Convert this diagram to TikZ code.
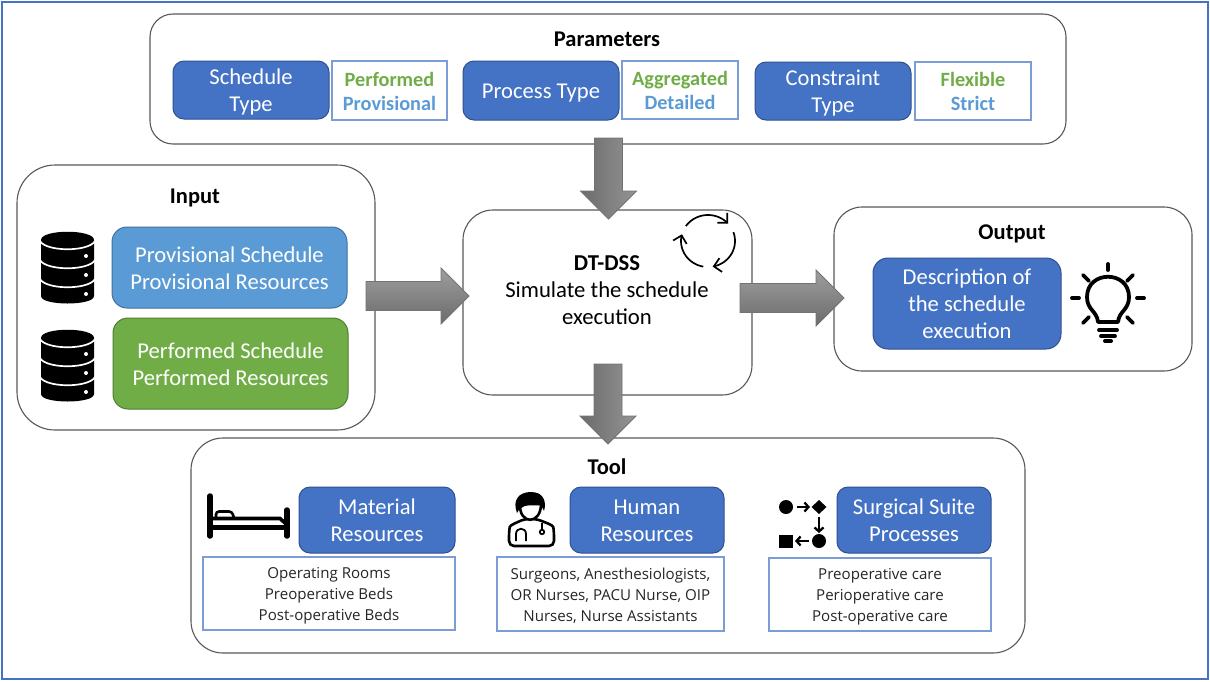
\documentclass[tikz,border=0pt]{standalone}
\usepackage{fontspec}
\setmainfont{Carlito}
\newfontfamily\listfont{Open Sans}
\usetikzlibrary{calc,arrows.meta}
\definecolor{bluebox}{HTML}{4472C4}
\definecolor{blueedge}{HTML}{2F528F}
\definecolor{skybox}{HTML}{5B9BD5}
\definecolor{skyedge}{HTML}{41719C}
\definecolor{greenbox}{HTML}{70AD47}
\definecolor{greenedge}{HTML}{507E32}
\definecolor{panel}{HTML}{595959}
\definecolor{listtext}{HTML}{262626}
\tikzset{
  panelbox/.style={draw=panel,line width=1.1pt,fill=white},
  bluefill/.style={draw=blueedge,line width=1pt,fill=bluebox,text=white,rounded corners=11pt,align=center,font=\fontsize{22.6}{27}\selectfont},
  skyfill/.style={bluefill,draw=skyedge,fill=skybox,rounded corners=15pt},
  greenfill/.style={bluefill,draw=greenedge,fill=greenbox,rounded corners=15pt},
  whitebox/.style={draw=bluebox!70,line width=1.2pt,fill=white,align=center},
  paramlist/.style={whitebox,font=\fontsize{20.3}{24}\selectfont\bfseries},
  careList/.style={whitebox,text=listtext,font=\listfont\fontsize{15.1}{21}\selectfont},
  titletext/.style={font=\fontsize{22.5}{24}\selectfont\bfseries,text=black},
  blockarrow/.style={draw=black!55,line width=.8pt,top color=black!38,bottom color=black!58},
  vblockarrow/.style={draw=black!55,line width=.8pt,left color=black!58,right color=black!42},
}
\def\bxdrop{3pt}
\newcommand{\bx}[7]{\node[#2,inner sep=0pt,outer sep=0pt,minimum width={(#5-#3)*1pt},minimum height={(#6-#4)*1pt}] (#1) at ({(#3+#5)/2},{(#4+#6)/2}) {\raisebox{0pt}[\dimexpr\height+\bxdrop\relax][\dimexpr\depth-\bxdrop\relax]{\begin{tabular}{@{}c@{}}#7\end{tabular}}};}
\newcommand{\hblock}[2]{\draw[blockarrow] ($(#1)+(0,-14.5)$) -- ($(#2)+(-28,-14.5)$) -- ($(#2)+(-28,-28)$) -- (#2) -- ($(#2)+(-28,28)$) -- ($(#2)+(-28,14.5)$) -- ($(#1)+(0,14.5)$) -- cycle;}
\newcommand{\vblock}[2]{\draw[vblockarrow] ($(#1)+(-14,0)$) -- ($(#2)+(-14,-28)$) -- ($(#2)+(-28,-28)$) -- (#2) -- ($(#2)+(28,-28)$) -- ($(#2)+(14,-28)$) -- ($(#1)+(14,0)$) -- cycle;}
\newcommand{\dbicon}[1]{\begin{scope}[shift={(0,#1)}]
  \fill[black] (41,240) .. controls (41,229) and (94,229) .. (94,240) -- (94,296) .. controls (94,306) and (41,306) .. (41,296) -- cycle;
  \draw[white,line width=1.7pt] (40,241) .. controls (46,252) and (89,252) .. (95,241);
  \draw[white,line width=1.7pt] (40,260) .. controls (46,271) and (89,271) .. (95,260);
  \draw[white,line width=1.7pt] (40,279) .. controls (46,290) and (89,290) .. (95,279);
  \fill[white] (86,256) circle (2) (86,275) circle (2) (86,294) circle (2);
\end{scope}}
\begin{document}
\begin{tikzpicture}[x=1pt,y=-1pt]
\useasboundingbox (0,0) rectangle (1210,681);
\fill[white] (0,0) rectangle (1210,681);
\draw[bluebox,line width=2.4pt] (2,2) rectangle (1208,679);
% panels
\node[panelbox,rounded corners=23pt,inner sep=0pt,minimum width=916pt,minimum height=130pt] (params) at (608,79) {};
\node[panelbox,rounded corners=38pt,inner sep=0pt,minimum width=358pt,minimum height=265pt] (input) at (196,297.5) {};
\node[panelbox,rounded corners=30pt,inner sep=0pt,minimum width=289pt,minimum height=185pt] (dss) at (607.5,302.5) {};
\node[panelbox,rounded corners=28pt,inner sep=0pt,minimum width=358pt,minimum height=164pt] (output) at (1013,289) {};
\node[panelbox,rounded corners=32pt,inner sep=0pt,minimum width=834pt,minimum height=215pt] (tool) at (608,545.5) {};
% titles
\node[titletext] (tparams) at (607,39.5) {Parameters};
\node[titletext] (tinput) at (195,197.5) {Input};
\node[titletext] (toutput) at (1012,233.5) {Output};
\node[titletext] (ttool) at (607,467) {Tool};
\node[align=center,font=\fontsize{22.7}{27}\selectfont] (tdss) at (607,290) {\textbf{DT-DSS}\\Simulate the schedule\\execution};
% parameters
\bx{sched}{bluefill}{173}{61}{329}{119}{Schedule\\Type}
\bx{schedv}{paramlist}{332}{61}{447}{120}{\textcolor{greenbox}{Performed}\\\textcolor{skybox}{Provisional}}
\bx{proc}{bluefill}{463}{61}{619}{120}{Process Type}
\bx{procv}{paramlist}{622}{61}{738}{119}{\textcolor{greenbox}{Aggregated}\\\textcolor{skybox}{Detailed}}
\bx{cons}{bluefill}{755}{62}{911}{120}{Constraint\\Type}
\bx{consv}{paramlist}{915}{62}{1031}{120}{\textcolor{greenbox}{Flexible}\\\textcolor{skybox}{Strict}}
% input
\bx{prov}{skyfill}{112}{227}{347}{308}{Provisional Schedule\\Provisional Resources}
\bx{perf}{greenfill}{113}{318}{348}{409}{Performed Schedule\\Performed Resources}
\dbicon{0}
\dbicon{98}
% output
\bx{desc}{bluefill,rounded corners=15pt}{873}{258}{1061}{349}{Description of\\the schedule\\execution}
% tool
\bx{mat}{bluefill}{299}{487}{455}{553}{Material\\Resources}
\bx{hum}{bluefill}{570}{487}{724}{553}{Human\\Resources}
\bx{surg}{bluefill}{837}{487}{991}{553}{Surgical Suite\\Processes}
\def\bxdrop{2pt}
\bx{matl}{careList}{203}{557}{455}{630}{Operating Rooms\\Preoperative Beds\\Post-operative Beds}
\bx{huml}{careList}{497}{557}{724}{631}{Surgeons, Anesthesiologists,\\OR Nurses, PACU Nurse, OIP\\Nurses, Nurse Assistants}
\bx{surgl}{careList}{769}{558}{991}{631}{Preoperative care\\Perioperative care\\Post-operative care}
% block arrows
\coordinate (a1s) at (366,296); \coordinate (a1e) at (469,296);
\coordinate (a2s) at (740,298); \coordinate (a2e) at (844,298);
\coordinate (a3s) at (608.5,138); \coordinate (a3e) at (608.5,219);
\coordinate (a4s) at (608,364); \coordinate (a4e) at (608,444);
\hblock{a1s}{a1e}
\hblock{a2s}{a2e}
\vblock{a3s}{a3e}
\vblock{a4s}{a4e}
% cycle icon
\begin{scope}[line width=1.7pt,-{Straight Barb[length=7pt,width=14pt]}]
\draw plot[domain=215:318,samples=24,smooth] ({708+27*cos(\x)},{241+26*sin(\x)});
\draw plot[domain=-20:80,samples=24,smooth] ({708+27*cos(\x)},{241+26*sin(\x)});
\draw plot[domain=100:195,samples=24,smooth] ({708+27*cos(\x)},{241+26*sin(\x)});
\end{scope}
% light bulb
\begin{scope}[line width=3.8pt,line cap=round,line join=round]
\draw (1098,322) .. controls (1097,311) and (1087,310) .. (1087,297) .. controls (1087,270) and (1129,270) .. (1129,297) .. controls (1129,310) and (1119,311) .. (1118,322) -- cycle;
\draw (1099,330) -- (1117,330);
\draw (1101,336) -- (1115,336);
\draw[line width=4pt] (1105,341) -- (1111,341);
\draw (1108,264) -- (1108,270);
\draw (1072,298) -- (1079,298);
\draw (1137,298) -- (1144,298);
\draw (1083,275) -- (1089,281);
\draw (1133,275) -- (1127,281);
\draw (1083,323) -- (1089,317);
\draw (1133,323) -- (1127,317);
\end{scope}
% bed icon
\begin{scope}[line cap=round]
\draw[line width=5.5pt] (210,496) -- (210,536);
\draw[line width=5.5pt] (287,510) -- (287,536);
\draw[line width=5.4pt,line cap=butt] (210,527.5) -- (287,527.5);
\draw[line width=3.6pt,line cap=butt] (213,518.5) -- (280,518.5) -- (285,523);
\draw[line width=2.6pt,rounded corners=3pt] (216,518) -- (216,511.5) -- (232,511.5) -- (234,518);
\end{scope}
% doctor icon
\begin{scope}[line width=2.6pt,line join=round]
\draw[fill=white,rounded corners=5pt] (509,546) -- (509,532) .. controls (510,525) and (518,522) .. (524,519) -- (537,519) .. controls (544,522) and (553,525) .. (554,532) -- (554,546) -- cycle;
\draw[fill=white] (520,504) .. controls (519,525) and (541,525) .. (541,504) -- cycle;
\fill (517,513) .. controls (512,500) and (519,492) .. (531,492) .. controls (543,492) and (547,501) .. (544,511) .. controls (541,504) and (537,502) .. (533,504) .. controls (527,506) and (521,505) .. (517,513) -- cycle;
\draw[line width=1.8pt] (516,541) -- (516,534) .. controls (516,527) and (526,527) .. (526,534) -- (526,541);
\draw[line width=1.8pt] (542,523) -- (542,530);
\draw[line width=1.8pt] (542,532) circle (2.2);
\end{scope}
% process icon
\fill (786,507) circle (7);
\fill (819,500) -- (826.5,507) -- (819,514) -- (811.5,507) -- cycle;
\fill (819,541) circle (7);
\fill (779,535) rectangle (793,548);
\begin{scope}[line width=2.3pt,-{Straight Barb[length=4pt,width=9pt]}]
\draw (797,507) -- (810,507);
\draw (819,517) -- (819,533);
\draw (809,541) -- (795,541);
\end{scope}
\end{tikzpicture}
\end{document}
